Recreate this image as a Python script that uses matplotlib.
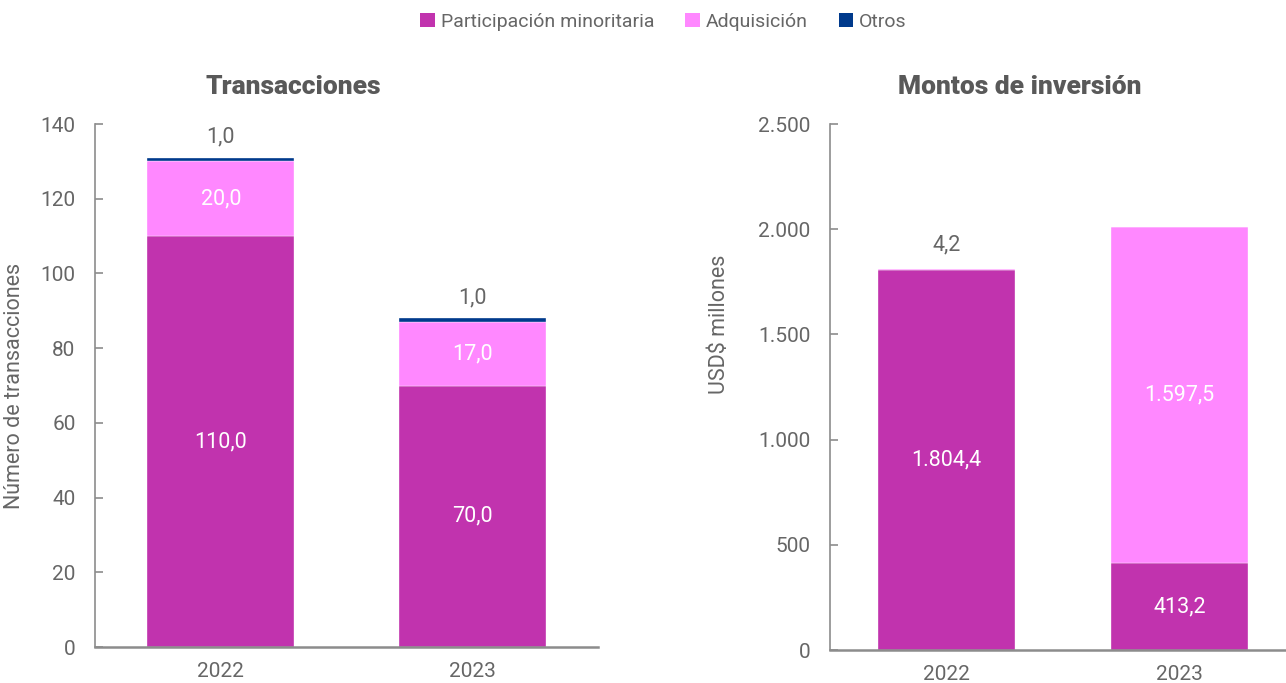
from __future__ import annotations

import matplotlib

matplotlib.use("Agg")
import matplotlib.pyplot as plt
import numpy as np
from matplotlib.patches import Patch
from matplotlib.ticker import FuncFormatter

YEARS = ["2022", "2023"]
SERIES = ["Participación minoritaria", "Adquisición", "Otros"]

# Number of deals per year
TX_MINORITARIA = [110.0, 70.0]
TX_ADQUISICION = [20.0, 17.0]
TX_OTROS = [1.0, 1.0]

# Invested amounts, USD$ millions
MONTO_MINORITARIA = [1804.4, 413.2]
MONTO_ADQUISICION = [4.2, 1597.5]
MONTO_OTROS = [0.0, 0.0]

COLORS = ["#c133ae", "#ff88ff", "#003a8c"]
TEXT_GRAY = "#666666"
SPINE_GRAY = "#8c8c8c"

BASE_FONT = ["Roboto", "DejaVu Sans"]
TITLE_FONT = ["Roboto", "DejaVu Sans"]


def es_number(value: float, decimals: int = 1) -> str:
    s = f"{value:,.{decimals}f}"
    return s.replace(",", "X").replace(".", ",").replace("X", ".")


def draw_stack(ax, series, min_inside, label_offset):
    x = np.arange(len(YEARS))
    bottom = np.zeros(len(YEARS))
    for values, color in zip(series, COLORS):
        values = np.asarray(values, dtype=float)
        ax.bar(x, values, bottom=bottom, width=0.585, color=color,
               edgecolor="white", linewidth=0.25, zorder=2)
        for xi, b, v in zip(x, bottom, values):
            if v >= min_inside:
                ax.text(xi, b + v / 2, es_number(v), ha="center", va="center",
                        color="white", fontsize=15.5)
        bottom = bottom + values

    # small segments get their value printed above the stack
    for xi in x:
        total = sum(s[xi] for s in series)
        small = [s[xi] for s in series if 0 < s[xi] < min_inside]
        if small:
            ax.annotate(es_number(small[-1]), xy=(xi, total),
                        xytext=(0, label_offset), textcoords="offset points",
                        ha="center", va="center", color=TEXT_GRAY, fontsize=15.5)


def style_axes(ax, ymax, step, thousands=False):
    ax.set_xlim(-0.5, 1.5)
    ax.set_ylim(0, ymax)
    ax.set_yticks(np.arange(0, ymax + 1, step))
    ax.set_xticks(np.arange(len(YEARS)))
    ax.set_xticklabels(YEARS)
    if thousands:
        ax.yaxis.set_major_formatter(FuncFormatter(lambda v, _: es_number(v, 0)))
    for side in ("top", "right"):
        ax.spines[side].set_visible(False)
    ax.spines["left"].set_color(SPINE_GRAY)
    ax.spines["left"].set_linewidth(1.2)
    ax.spines["bottom"].set_color(SPINE_GRAY)
    ax.spines["bottom"].set_linewidth(1.8)
    ax.tick_params(axis="y", direction="in", length=6, width=1.2,
                   color=SPINE_GRAY, labelcolor=TEXT_GRAY, labelsize=15, pad=14)
    ax.tick_params(axis="x", length=0, labelcolor=TEXT_GRAY, labelsize=15, pad=11)


def main() -> None:
    plt.rcParams["font.family"] = BASE_FONT

    fig = plt.figure(figsize=(12.86, 6.83), dpi=100)
    ax_tx = fig.add_axes([0.0739, 0.0527, 0.3911, 0.7657])
    ax_mt = fig.add_axes([0.6454, 0.0483, 0.3624, 0.7701])

    draw_stack(ax_tx, [TX_MINORITARIA, TX_ADQUISICION, TX_OTROS], 5, 15)
    style_axes(ax_tx, 140, 20)
    ax_tx.set_ylabel("Número de transacciones", color=TEXT_GRAY, fontsize=15.5)
    ax_tx.yaxis.set_label_coords(-0.14, 0.5)

    draw_stack(ax_mt, [MONTO_MINORITARIA, MONTO_ADQUISICION, MONTO_OTROS], 100, 18)
    style_axes(ax_mt, 2500, 500, thousands=True)
    ax_mt.set_ylabel("USD$ millones", color=TEXT_GRAY, fontsize=15.5)
    ax_mt.yaxis.set_label_coords(-0.215, 0.62)

    title_kw = dict(ha="center", va="center", color="#595959", fontsize=19,
                    fontweight="black", fontstretch="condensed", family=TITLE_FONT)
    fig.text(293 / 1286, 1 - 87 / 683, "Transacciones", **title_kw)
    fig.text(1020 / 1286, 1 - 87 / 683, "Montos de inversión", **title_kw)

    handles = [Patch(facecolor=c, edgecolor="none") for c in COLORS]
    leg = fig.legend(handles, SERIES, loc="center", bbox_to_anchor=(0.516, 1 - 22 / 683),
                     ncol=3, frameon=False, fontsize=14, handlelength=0.75,
                     handleheight=0.75, handletextpad=0.3, columnspacing=1.6)
    for t in leg.get_texts():
        t.set_color(TEXT_GRAY)

    fig.savefig("out.png", dpi=100)
    plt.close(fig)


if __name__ == "__main__":
    main()
